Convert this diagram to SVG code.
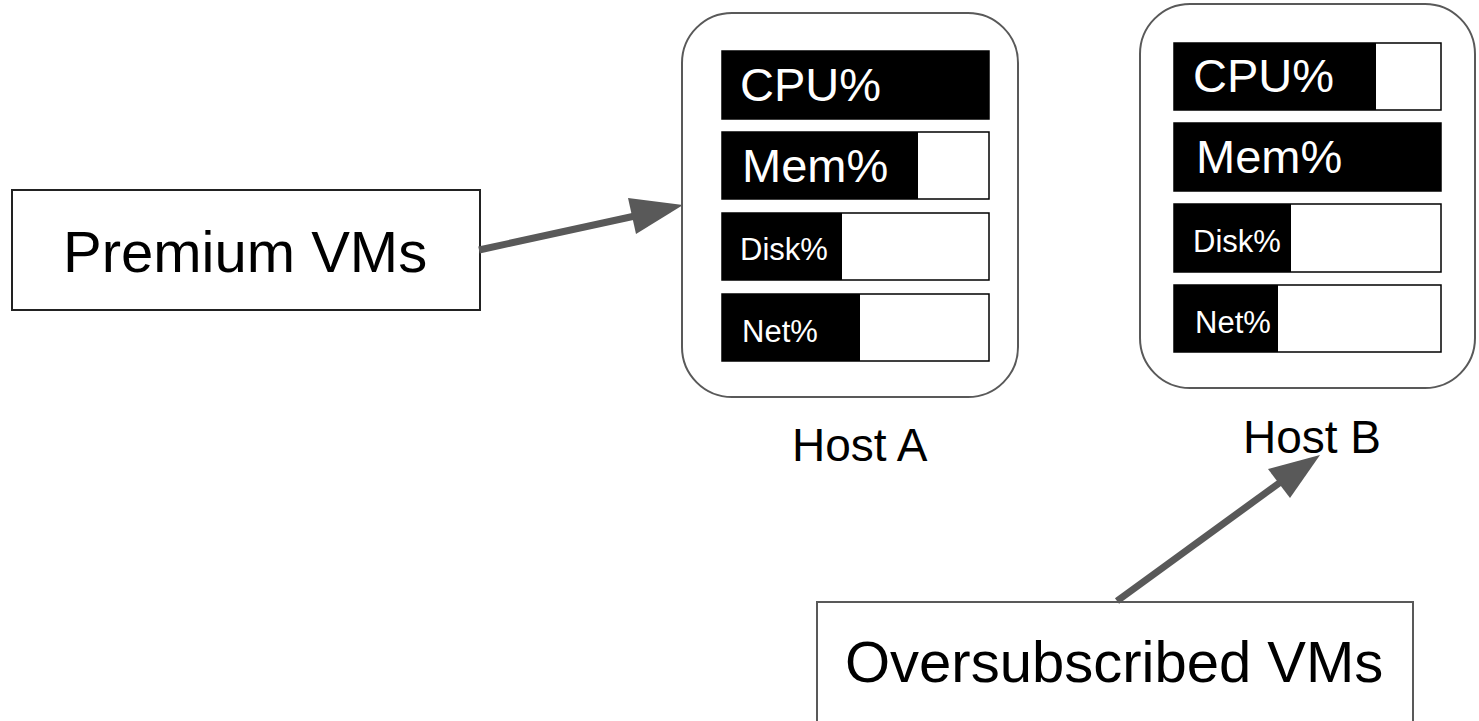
<svg xmlns="http://www.w3.org/2000/svg" width="1479" height="721" viewBox="0 0 1479 721">
<style>
text{font-family:"Liberation Sans",Arial,sans-serif}
.host{fill:#fff;stroke:#595959;stroke-width:2}
.bar{fill:#fff;stroke:#000;stroke-width:1.5}
.fill{fill:#000}
.big{font-size:47px;fill:#fff}
.small{font-size:31px;fill:#fff}
.lbl{font-size:46px;fill:#000}
.box{fill:#fff;stroke-width:2}
.boxt{font-size:58px;fill:#000}
.conn{stroke:#595959;stroke-width:7;fill:none}
.head{fill:#595959}
</style>
<rect width="1479" height="721" fill="#fff"/>
<g id="hostA">
<rect class="host" x="682" y="13" width="336" height="384" rx="50"/>
<rect class="bar" x="722" y="51" width="267" height="68"/>
<rect class="fill" x="722" y="51" width="267" height="68"/>
<text class="big" x="740" y="101">CPU%</text>
<rect class="bar" x="722" y="132" width="267" height="67"/>
<rect class="fill" x="722" y="132" width="196" height="67"/>
<text class="big" x="742" y="182">Mem%</text>
<rect class="bar" x="722" y="213" width="267" height="67"/>
<rect class="fill" x="722" y="213" width="120" height="67"/>
<text class="small" x="740" y="260">Disk%</text>
<rect class="bar" x="722" y="294" width="267" height="67"/>
<rect class="fill" x="722" y="294" width="138" height="67"/>
<text class="small" x="742" y="342">Net%</text>
<text class="lbl" x="792" y="461">Host A</text>
</g>
<g id="hostB">
<rect class="host" x="1140" y="4" width="335" height="384" rx="50"/>
<rect class="bar" x="1174" y="43" width="267" height="67"/>
<rect class="fill" x="1174" y="43" width="202" height="67"/>
<text class="big" x="1193" y="92">CPU%</text>
<rect class="bar" x="1174" y="123" width="267" height="68"/>
<rect class="fill" x="1174" y="123" width="267" height="68"/>
<text class="big" x="1196" y="173">Mem%</text>
<rect class="bar" x="1174" y="204" width="267" height="68"/>
<rect class="fill" x="1174" y="204" width="117" height="68"/>
<text class="small" x="1193" y="252">Disk%</text>
<rect class="bar" x="1174" y="285" width="267" height="67"/>
<rect class="fill" x="1174" y="285" width="104" height="67"/>
<text class="small" x="1195" y="333">Net%</text>
<text class="lbl" x="1243" y="453">Host B</text>
</g>
<g id="premium">
<rect class="box" x="12" y="190" width="468" height="120" stroke="#222"/>
<text class="boxt" x="63" y="272">Premium VMs</text>
</g>
<g id="oversubscribed">
<rect class="box" x="817" y="602" width="596" height="130" stroke="#595959"/>
<text class="boxt" x="845" y="682">Oversubscribed VMs</text>
</g>
<g id="connectors">
<line class="conn" x1="479" y1="250" x2="635" y2="216"/>
<polygon class="head" points="683,205 628,198 636,234"/>
<line class="conn" x1="1117" y1="601" x2="1282" y2="481"/>
<polygon class="head" points="1320,455 1268,469 1290,498"/>
</g>
</svg>
